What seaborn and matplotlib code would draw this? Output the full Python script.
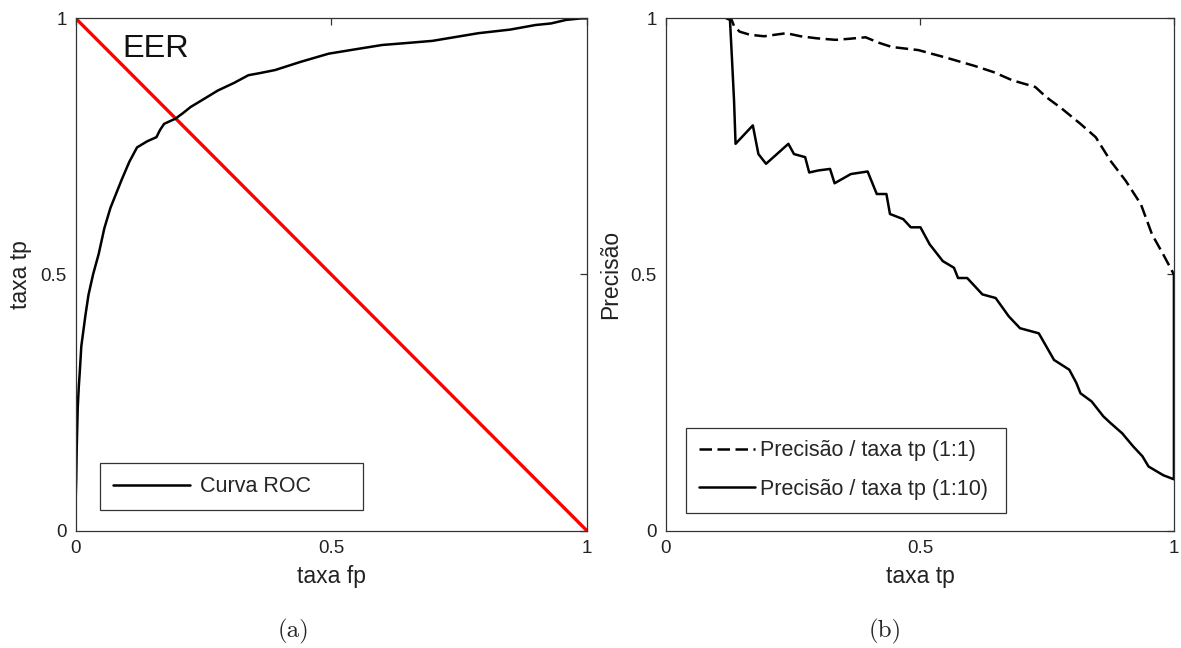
import seaborn as sns
import matplotlib.pyplot as plt
from matplotlib.lines import Line2D

# ROC curve (left panel)
roc_fp = [0, 0.001, 0.002, 0.003, 0.004, 0.006, 0.008, 0.011, 0.015, 0.019, 0.025, 0.034,
          0.045, 0.056, 0.068, 0.08, 0.09, 0.105, 0.12, 0.14, 0.158, 0.165, 0.173, 0.195,
          0.21, 0.225, 0.25, 0.278, 0.31, 0.338, 0.36, 0.39, 0.44, 0.495, 0.55, 0.6, 0.65,
          0.698, 0.74, 0.788, 0.85, 0.9, 0.93, 0.96, 0.99, 1.0]
roc_tp = [0.065, 0.1, 0.16, 0.2, 0.24, 0.28, 0.31, 0.36, 0.39, 0.42, 0.46, 0.5,
          0.54, 0.59, 0.63, 0.66, 0.685, 0.72, 0.748, 0.76, 0.768, 0.782, 0.794, 0.804,
          0.815, 0.827, 0.842, 0.859, 0.874, 0.889, 0.893, 0.899, 0.915, 0.931, 0.94, 0.948, 0.952,
          0.956, 0.963, 0.971, 0.978, 0.987, 0.99, 0.997, 1.0, 1.0]
eer_x = [0, 1]
eer_y = [1, 0]

# precision / recall (right panel)
pr11_tp = [0.119, 0.128, 0.134, 0.145, 0.165, 0.193, 0.215, 0.237, 0.265, 0.297, 0.334, 0.36,
           0.393, 0.42, 0.445, 0.497, 0.556, 0.608, 0.645, 0.682, 0.727, 0.749, 0.779, 0.816,
           0.846, 0.875, 0.905, 0.935, 0.957, 0.979, 1.0]
pr11_p = [1.0, 1.0, 0.985, 0.974, 0.968, 0.965, 0.968, 0.971, 0.965, 0.961, 0.958, 0.96,
          0.963, 0.952, 0.944, 0.938, 0.922, 0.907, 0.895, 0.879, 0.866, 0.846, 0.824, 0.794,
          0.768, 0.722, 0.683, 0.637, 0.578, 0.539, 0.5]
pr110_tp = [0.119, 0.126, 0.13, 0.134, 0.137, 0.171, 0.182, 0.197, 0.241, 0.252, 0.274, 0.282,
            0.3, 0.323, 0.332, 0.364, 0.397, 0.415, 0.434, 0.441, 0.467, 0.482, 0.501, 0.519,
            0.545, 0.567, 0.575, 0.593, 0.623, 0.649, 0.675, 0.697, 0.734, 0.749, 0.764, 0.794,
            0.808, 0.816, 0.838, 0.861, 0.875, 0.898, 0.92, 0.938, 0.95, 0.979, 1.0, 1.0]
pr110_p = [1.0, 0.997, 0.92, 0.84, 0.755, 0.791, 0.735, 0.716, 0.755, 0.735, 0.729, 0.699,
           0.703, 0.706, 0.678, 0.696, 0.701, 0.657, 0.657, 0.618, 0.608, 0.592, 0.592, 0.559,
           0.526, 0.513, 0.493, 0.493, 0.461, 0.454, 0.418, 0.395, 0.385, 0.359, 0.333, 0.314,
           0.288, 0.268, 0.252, 0.223, 0.21, 0.19, 0.164, 0.145, 0.125, 0.108, 0.1, 0.5]

ticks = [0, 0.5, 1]
tick_labels = ["0", "0.5", "1"]

sns.set_style("white")
plt.rcParams['font.family'] = ['Liberation Sans', 'DejaVu Sans']

ink = "#333333"
tick_size = 13.5
label_size = 16.5
legend_size = 15.5


def style_axes(ax, xlabel, ylabel):
    ax.set_xlim(0, 1)
    ax.set_ylim(0, 1)
    ax.set_xticks(ticks)
    ax.set_yticks(ticks)
    ax.set_xticklabels(tick_labels)
    ax.set_yticklabels(tick_labels)
    ax.tick_params(direction="in", top=True, right=True, length=4.8, width=0.9,
                   color=ink, labelsize=tick_size, labelcolor="#222222", pad=6.5)
    for s in ax.spines.values():
        s.set_visible(True)
        s.set_color(ink)
        s.set_linewidth(0.9)
    ax.set_xlabel(xlabel, fontsize=label_size, color="#222222", labelpad=6)
    ax.set_ylabel(ylabel, fontsize=label_size, color="#222222", labelpad=6)


fig = plt.figure(figsize=(11.81, 6.48), dpi=100)
ax1 = fig.add_axes([0.0641, 0.1813, 0.4327, 0.7904])
ax2 = fig.add_axes([0.5639, 0.1813, 0.4301, 0.7904])

# ---- (a) ROC ----
sns.lineplot(x=eer_x, y=eer_y, ax=ax1, color="#ff0000", linewidth=2.4,
             sort=False, estimator=None)
sns.lineplot(x=roc_fp, y=roc_tp, ax=ax1, color="black", linewidth=1.8,
             sort=False, estimator=None)
style_axes(ax1, "taxa fp", "taxa tp")
ax1.text(0.092, 0.925, "EER", fontsize=23.4, color="#111111")
h1 = [Line2D([], [], color="black", linewidth=1.8)]
ax1.legend(h1, ["Curva ROC"], loc="lower left", mode="expand",
           bbox_to_anchor=(0.047, 0.040, 0.516, 0.101), borderaxespad=0,
           fontsize=legend_size, handlelength=3.6, handletextpad=0.45,
           borderpad=0.6, fancybox=False, framealpha=1,
           edgecolor=ink).get_frame().set_linewidth(0.9)

# ---- (b) precision ----
sns.lineplot(x=pr11_tp, y=pr11_p, ax=ax2, color="black", linewidth=1.8,
             linestyle=(0, (5, 2.2)), sort=False, estimator=None)
sns.lineplot(x=pr110_tp, y=pr110_p, ax=ax2, color="black", linewidth=1.8,
             sort=False, estimator=None)
style_axes(ax2, "taxa tp", "Precisão")
h2 = [Line2D([], [], color="black", linewidth=1.8, linestyle=(0, (5, 2.2))),
      Line2D([], [], color="black", linewidth=1.8)]
ax2.legend(h2, ["Precisão / taxa tp (1:1)", "Precisão / taxa tp (1:10)"],
           loc="lower left", mode="expand",
           bbox_to_anchor=(0.039, 0.035, 0.631, 0.183), borderaxespad=0,
           fontsize=legend_size, handlelength=2.6, handletextpad=0.27,
           borderpad=0.6, labelspacing=0.8, fancybox=False, framealpha=1,
           edgecolor=ink).get_frame().set_linewidth(0.9)

# sub-figure captions
fig.text(293 / 1181, 1 - 631 / 648, "(a)", family="cmr10", fontsize=18,
         ha="center", va="center")
fig.text(885 / 1181, 1 - 631 / 648, "(b)", family="cmr10", fontsize=18,
         ha="center", va="center")

fig.savefig("out.png", dpi=100)
